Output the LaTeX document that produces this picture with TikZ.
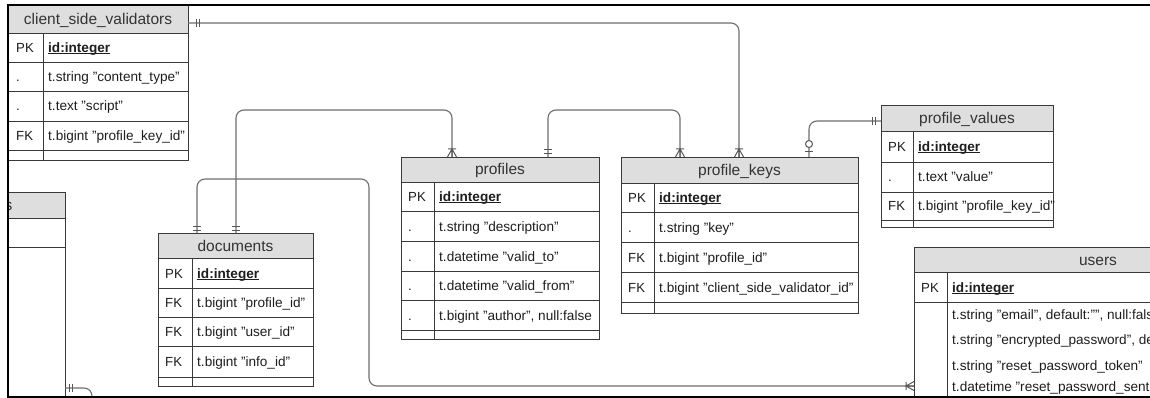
\documentclass[tikz,border=0pt]{standalone}
\usepackage{fontspec}
\setmainfont{Liberation Sans}
\usetikzlibrary{calc}

\definecolor{tabline}{HTML}{3A3A3A}
\definecolor{headgray}{HTML}{DEDEDE}
\definecolor{connline}{HTML}{6E6E6E}
\definecolor{headtext}{HTML}{333333}
\definecolor{celltext}{HTML}{1E1E1E}

% bold, underlined primary key field
\newcommand\erdul[1]{\setbox0\hbox{\textbf{#1}}\rlap{\usebox0}\rule[-1.8pt]{\wd0}{0.9pt}}

% table outline plus its grey title bar
\newcommand\erdbox[7]{%
  \node[tbl, minimum width=#4, minimum height=#5] (#1) at (#2,#3) {};
  \node[head, minimum width=#4, minimum height=#6] (#1-head) at (#2,#3) {#7};
}
% one row: key column label and field text
\newcommand\erdrow[7]{%
  \node[keytxt] (#1-key#2) at (#3,#5) {#6};
  \node[celltxt] (#1-field#2) at (#4,#5) {#7};
}

\tikzset{
  tbl/.style={draw=tabline, line width=0.9pt, fill=white, rectangle,
    inner sep=0pt, outer sep=0pt, anchor=north west},
  head/.style={draw=tabline, line width=0.9pt, fill=headgray, rectangle,
    inner sep=0pt, outer sep=0pt, anchor=north west, text=headtext,
    font=\fontsize{15.5}{18}\selectfont, text height=11pt, text depth=0pt},
  keytxt/.style={anchor=west, inner sep=0pt, text=celltext,
    font=\fontsize{13.2}{15}\selectfont, text height=10pt, text depth=0pt},
  celltxt/.style={anchor=west, inner sep=0pt, text=celltext,
    font=\fontsize{13.6}{15}\selectfont, text height=10pt, text depth=0pt},
  rowrule/.style={draw=tabline, line width=0.9pt},
  conn/.style={draw=connline, line width=1.1pt, rounded corners=8pt},
  connmark/.style={draw=connline!80!black, line width=1pt},
  frameline/.style={draw=black, line width=2pt},
  pics/crowtop/.style={code={
    \draw[connmark] (-4.5,0) -- (0,-8) -- (4.5,0) (0,-8) -- (0,0) (-4,-8) -- (4,-8);}},
  pics/crowleft/.style={code={
    \draw[connmark] (0,-4.5) -- (-8,0) -- (0,4.5) (-8,0) -- (0,0) (-8,-4) -- (-8,4);}},
  pics/barstop/.style={code={
    \draw[connmark] (-4,-3) -- (4,-3) (-4,-7) -- (4,-7);}},
  pics/barsR/.style={code={
    \draw[connmark] (8,-4) -- (8,4) (11.5,-4) -- (11.5,4);}},
  pics/barsL/.style={code={
    \draw[connmark] (-9,-4) -- (-9,4) (-5.5,-4) -- (-5.5,4);}},
  pics/zeroonetop/.style={code={
    \draw[connmark] (-4,-5) -- (4,-5);
    \draw[connmark, fill=white] (0,-13) circle[radius=3.5pt];}},
}

\begin{document}
\begin{tikzpicture}[x=1pt,y=-1pt]
\useasboundingbox (0,0) rectangle (1150,398);
\fill[white] (0,0) rectangle (1150,398);

\begin{scope}
\clip (8,5) rectangle (1150,397);

% ---------- tables ----------
% client_side_validators
\erdbox{csv}{8}{5}{180}{155}{28}{client\_side\_validators}
\foreach \yy in {62,91,121,150} \draw[rowrule] (8,\yy) -- (188,\yy);
\draw[rowrule] (43,33) -- (43,160);
\begin{scope}
\clip (8,33) rectangle (187.5,160);
\erdrow{csv}{1}{16}{48}{47.5}{PK}{\erdul{id:integer}}
\erdrow{csv}{2}{16}{48}{76.5}{.}{t.string "content\_type"}
\erdrow{csv}{3}{16}{48}{106}{.}{t.text "script"}
\erdrow{csv}{4}{16}{48}{135.5}{FK}{t.bigint "profile\_key\_id"}
\end{scope}

% profiles
\erdbox{profiles}{401}{157}{198}{182}{25}{profiles}
\foreach \yy in {211,241,271,300,330} \draw[rowrule] (401,\yy) -- (599,\yy);
\draw[rowrule] (434,182) -- (434,339);
\erdrow{profiles}{1}{408}{439}{196.5}{PK}{\erdul{id:integer}}
\erdrow{profiles}{2}{408}{439}{226}{.}{t.string "description"}
\erdrow{profiles}{3}{408}{439}{256}{.}{t.datetime "valid\_to"}
\erdrow{profiles}{4}{408}{439}{285.5}{.}{t.datetime "valid\_from"}
\erdrow{profiles}{5}{408}{439}{315}{.}{t.bigint "author", null:false}

% profile_keys
\erdbox{pkeys}{621}{157}{237}{156}{26}{profile\_keys}
\foreach \yy in {212,242,272,302} \draw[rowrule] (621,\yy) -- (858,\yy);
\draw[rowrule] (654,183) -- (654,313);
\begin{scope}
\clip (621,183) rectangle (857.5,313);
\erdrow{pkeys}{1}{628}{659}{197.5}{PK}{\erdul{id:integer}}
\erdrow{pkeys}{2}{628}{659}{227}{.}{t.string "key"}
\erdrow{pkeys}{3}{628}{659}{257}{FK}{t.bigint "profile\_id"}
\erdrow{pkeys}{4}{628}{659}{287}{FK}{t.bigint "client\_side\_validator\_id"}
\end{scope}

% profile_values
\erdbox{pvalues}{881}{105}{172}{122}{26}{profile\_values}
\foreach \yy in {162,192,220} \draw[rowrule] (881,\yy) -- (1053,\yy);
\draw[rowrule] (913,131) -- (913,227);
\erdrow{pvalues}{1}{888}{918}{146.5}{PK}{\erdul{id:integer}}
\erdrow{pvalues}{2}{888}{918}{177}{.}{t.text "value"}
\erdrow{pvalues}{3}{888}{918}{206}{FK}{t.bigint "profile\_key\_id"}

% users
\erdbox{users}{914}{247}{368}{170}{25}{users}
\draw[rowrule] (914,302) -- (1282,302);
\draw[rowrule] (947,272) -- (947,417);
\erdrow{users}{1}{921}{952}{287}{PK}{\erdul{id:integer}}
\node[celltxt] (users-field2) at (952,314) {t.string "email", default:"", null:fals};
\node[celltxt] (users-field3) at (952,339) {t.string "encrypted\_password", de};
\node[celltxt] (users-field4) at (952,365) {t.string "reset\_password\_token"};
\node[celltxt] (users-field5) at (952,386) {t.datetime "reset\_password\_sent};

% documents
\erdbox{documents}{158}{233}{155}{153}{25}{documents}
\foreach \yy in {288,317,346,377} \draw[rowrule] (158,\yy) -- (313,\yy);
\draw[rowrule] (192,258) -- (192,386);
\erdrow{documents}{1}{165}{197}{273}{PK}{\erdul{id:integer}}
\erdrow{documents}{2}{165}{197}{302.5}{FK}{t.bigint "profile\_id"}
\erdrow{documents}{3}{165}{197}{331.5}{FK}{t.bigint "user\_id"}
\erdrow{documents}{4}{165}{197}{361.5}{FK}{t.bigint "info\_id"}

% table at the left edge
\erdbox{infos}{-95}{192}{160}{230}{26}{}
\draw[rowrule] (-95,247) -- (65,247);
\node[anchor=base east, inner sep=0pt, text=headtext,
  font=\fontsize{15.5}{18}\selectfont] (infos-title) at (12.5,210.5) {s};

% ---------- relationship lines ----------
\coordinate (csvR)    at ($(csv.north east)+(0,18)$);
\coordinate (pkTopA)  at ($(pkeys.north west)+(118,0)$);
\coordinate (pkTopB)  at ($(pkeys.north west)+(59,0)$);
\coordinate (pkTopC)  at ($(pkeys.north west)+(188,0)$);
\coordinate (profTopA) at ($(profiles.north west)+(51,0)$);
\coordinate (profTopB) at ($(profiles.north west)+(147,0)$);
\coordinate (docTopB) at ($(documents.north west)+(78,0)$);
\coordinate (docTopC) at ($(documents.north west)+(39,0)$);
\coordinate (usersL)  at ($(users.north west)+(0,139)$);
\coordinate (pvL)     at ($(pvalues.north west)+(0,16)$);
\coordinate (infosR)  at ($(infos.north east)+(0,196)$);
\coordinate (infosOut) at (92,412);

\draw[conn] (csvR) -| (pkTopA);
\draw[conn] (docTopB) -- ++(0,-123) -| (profTopA);
\draw[conn] (docTopC) -- ++(0,-54) -- ++(172,0) |- (usersL);
\draw[conn] (profTopB) -- ++(0,-47) -| (pkTopB);
\draw[conn] (pkTopC) |- (pvL);
\draw[conn] (infosR) -| (infosOut);

% relationship end marks
\pic at (csvR) {barsR};
\pic at ($(infosR)+(-4,0)$) {barsR};
\pic at (pvL) {barsL};
\pic at (pkTopA) {crowtop};
\pic at (pkTopB) {crowtop};
\pic at (profTopA) {crowtop};
\pic at (docTopB) {barstop};
\pic at (docTopC) {barstop};
\pic at (profTopB) {barstop};
\pic at (usersL) {crowleft};
\pic at (pkTopC) {zeroonetop};
\end{scope}

% frame
\draw[frameline] (1150,5) -- (8,5) -- (8,397) -- (1150,397);
\end{tikzpicture}
\end{document}
